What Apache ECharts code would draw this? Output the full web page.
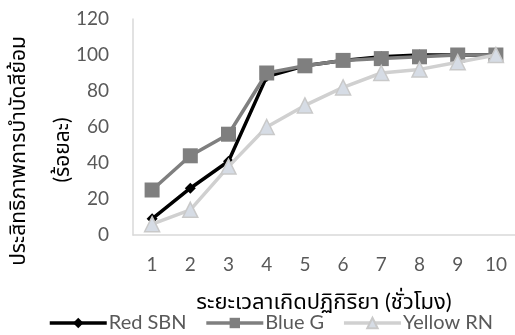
<!DOCTYPE html>
<html>
<head>
<meta charset="utf-8">
<script src="https://cdn.jsdelivr.net/npm/echarts@6/dist/echarts.min.js"></script>
<style>
  html, body { margin: 0; padding: 0; background: #fff; }
  #chart { width: 515px; height: 335px; }
</style>
</head>
<body>
<div id="chart"></div>
<script>
// Reaction time (hours)
const hours = ['1', '2', '3', '4', '5', '6', '7', '8', '9', '10'];
// Dye removal efficiency (%) per dye
const redSBN = [9, 26, 41, 88, 94, 97, 99, 100, 100, 100];
const blueG = [25, 44, 56, 90, 94, 97, 98, 99, 100, 100];
const yellowRN = [6, 14, 38, 60, 72, 82, 90, 92, 96, 100];

const FONT = 'Lato, "Noto Sans", "Noto Sans Thai", sans-serif';
const TXT = '#595959';

const chart = echarts.init(document.getElementById('chart'), null, { renderer: 'canvas' });

chart.setOption({
  animation: false,
  textStyle: { fontFamily: FONT },
  grid: { left: 133, width: 389, top: 19, height: 216, containLabel: false },
  xAxis: {
    type: 'category',
    data: hours,
    boundaryGap: true,
    axisLine: { show: true, lineStyle: { color: '#d9d9d9', width: 1.5 } },
    axisTick: { show: false },
    axisLabel: { color: TXT, fontSize: 19, margin: 20, fontFamily: FONT },
    name: 'ระยะเวลาเกิดปฏิกิริยา (ชั่วโมง)',
    nameLocation: 'middle',
    nameGap: 56,
    nameTextStyle: { color: '#000', fontSize: 22, fontFamily: FONT }
  },
  yAxis: {
    type: 'value',
    min: 0,
    max: 120,
    interval: 20,
    splitLine: { show: false },
    axisLine: { show: true, lineStyle: { color: '#d9d9d9', width: 1.5 } },
    axisTick: { show: false },
    axisLabel: { color: TXT, fontSize: 19, margin: 24, fontFamily: FONT }
  },
  legend: {
    top: 313,
    left: 48,
    padding: 0,
    itemWidth: 57,
    itemHeight: 13,
    itemGap: 18,
    lineStyle: { width: 3.5 },
    textStyle: { color: TXT, fontSize: 20, fontFamily: FONT, padding: [0, 0, 0, -3] },
    data: ['Red SBN', 'Blue G', 'Yellow RN']
  },
  graphic: [
    {
      type: 'text',
      x: 18, y: 151,
      rotation: Math.PI / 2,
      style: {
        text: 'ประสิทธิภาพการบำบัดสีย้อม',
        fill: '#000',
        font: '21px ' + FONT,
        align: 'center',
        verticalAlign: 'middle'
      }
    },
    {
      type: 'text',
      x: 62, y: 150,
      rotation: Math.PI / 2,
      style: {
        text: '(ร้อยละ)',
        fill: '#000',
        font: '21px ' + FONT,
        align: 'center',
        verticalAlign: 'middle'
      }
    }
  ],
  series: [
    {
      name: 'Red SBN',
      type: 'line',
      data: redSBN,
      symbol: 'diamond',
      symbolSize: 11,
      itemStyle: { color: '#000000' },
      lineStyle: { color: '#000000', width: 3.5 },
      z: 2
    },
    {
      name: 'Blue G',
      type: 'line',
      data: blueG,
      symbol: 'rect',
      symbolSize: 15,
      itemStyle: { color: '#7f7f7f' },
      lineStyle: { color: '#7f7f7f', width: 3.5 },
      z: 3
    },
    {
      name: 'Yellow RN',
      type: 'line',
      data: yellowRN,
      symbol: 'triangle',
      symbolSize: 15,
      itemStyle: { color: '#d6dce5', borderColor: '#c9c9c9', borderWidth: 1.5 },
      lineStyle: { color: '#d0d0d0', width: 3.5 },
      z: 4
    }
  ]
});
</script>
</body>
</html>
